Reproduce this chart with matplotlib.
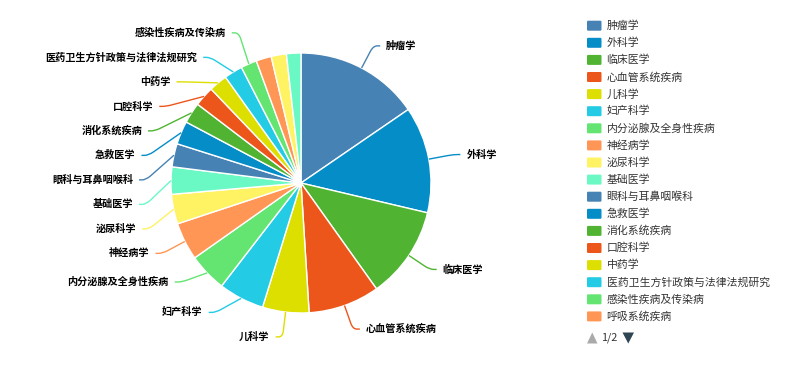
import numpy as np
import matplotlib.pyplot as plt
from matplotlib.path import Path
from matplotlib.patches import PathPatch, FancyBboxPatch, Polygon

plt.rcParams['font.family'] = ['Noto Sans CJK SC', 'DejaVu Sans']

# subject counts, largest first
subjects = ['肿瘤学', '外科学', '临床医学', '心血管系统疾病', '儿科学', '妇产科学',
            '内分泌腺及全身性疾病', '神经病学', '泌尿科学', '基础医学', '眼科与耳鼻咽喉科',
            '急救医学', '消化系统疾病', '口腔科学', '中药学', '医药卫生方针政策与法律法规研究',
            '感染性疾病及传染病', '呼吸系统疾病', '药学', '预防医学与卫生学']
counts = [155, 133, 115, 89, 58, 57, 48, 47, 37, 34, 29, 29, 26, 25, 23, 23, 20, 19, 19, 18]
palette = ['#4682B4', '#058DC7', '#50B432', '#ED561B', '#DDDF00',
           '#24CBE5', '#64E572', '#FF9655', '#FFF263', '#6AF9C4']

W, H = 785, 375
cx, cy, r = 301, 183, 130
len1, len2, gap = 25, 7, 6      # label line: radial part, horizontal part, text gap
row_h = 24.5                    # vertical room taken by one label
min_angle = 7                   # smaller slices get no label
pin_dx = 0.2                    # labels this close to vertical keep their spot

fig = plt.figure(figsize=(W / 100, H / 100), dpi=100)
ax = fig.add_axes([0, 0, 1, 1])
colors = [palette[i % len(palette)] for i in range(len(counts))]
wedges, _ = ax.pie(counts, colors=colors, startangle=-90, counterclock=True,
                   center=(cx, cy), radius=r,
                   wedgeprops=dict(edgecolor='white', linewidth=1))
ax.set_xlim(0, W)
ax.set_ylim(H, 0)
ax.set_aspect('auto')
ax.axis('off')


def shift_layout(items, lo, hi):
    """Push overlapping labels down, then pull the column back inside [lo, hi]."""
    if not items:
        return
    items.sort(key=lambda d: d['y'])
    tops = [d['y'] - row_h / 2 for d in items]
    last = lo
    for i in range(len(tops)):
        tops[i] = max(tops[i], last)
        last = tops[i] + row_h
    over = tops[-1] + row_h - hi
    if over > 0:
        room = max(tops[0] - lo, 0)
        tops = [t - min(over, room) for t in tops]
    for d, t in zip(items, tops):
        d['y'] = t + row_h / 2


labels = []
for w, name, color in zip(wedges, subjects, colors):
    if w.theta2 - w.theta1 < min_angle:
        continue
    mid = np.deg2rad((w.theta1 + w.theta2) / 2)
    ux, uy = np.cos(mid), np.sin(mid)
    labels.append(dict(name=name, color=color, side=1 if ux >= 0 else -1,
                       pinned=abs(ux) < pin_dx,
                       p1=(cx + r * ux, cy + r * uy),
                       x2=cx + (r + len1) * ux, y=cy + (r + len1) * uy))

for side in (-1, 1):
    free = [d for d in labels if d['side'] == side and not d['pinned']]
    fixed = [d['y'] for d in labels if d['side'] == side and d['pinned']]
    lo = max([y + row_h / 2 for y in fixed if y < cy], default=0)
    hi = min([y - row_h / 2 for y in fixed if y > cy], default=H)
    shift_layout(free, lo, hi)
    for d in free:
        dy = abs(d['y'] - cy)
        on_ring = np.sqrt(max((r + len1) ** 2 - dy ** 2, 0))
        d['x2'] = cx + side * max(on_ring, abs(d['x2'] - cx))

for d in labels:
    s = d['side']
    ax_, ay_ = d['p1']
    bx, by = d['x2'], d['y']
    ex = bx + s * len2
    # straight run into a rounded elbow
    seg = np.hypot(bx - ax_, by - ay_)
    k = min(1.0, 6 / seg) if seg > 0 else 0
    pre = (bx + (ax_ - bx) * k, by + (ay_ - by) * k)
    post = (bx + s * min(4, len2), by)
    path = Path([(ax_, ay_), pre, (bx, by), post, (ex, by)],
                [Path.MOVETO, Path.LINETO, Path.CURVE3, Path.CURVE3, Path.LINETO])
    ax.add_patch(PathPatch(path, fc='none', ec=d['color'], lw=1))
    ax.text(ex + s * gap, by, d['name'], fontsize=7.3, color='#000',
            fontweight='semibold', ha='left' if s > 0 else 'right', va='center')

# scrolling legend on the right
leg_x, leg_y0, leg_pitch = 587, 25.7, 17.1
icon_w, icon_h = 14.5, 10
pager_y = 338
per_page = int((pager_y - leg_y0) // leg_pitch)
pages = int(np.ceil(len(subjects) / per_page))
for i, (name, color) in enumerate(zip(subjects[:per_page], colors)):
    y = leg_y0 + i * leg_pitch
    ax.add_patch(FancyBboxPatch((leg_x, y - icon_h / 2), icon_w, icon_h,
                                boxstyle='round,pad=0,rounding_size=1.2',
                                fc=color, ec='none'))
    ax.text(leg_x + icon_w + 5, y, name, fontsize=7.8, color='#333',
            ha='left', va='center')

tri = 10.5
ax.add_patch(Polygon([(leg_x, pager_y + 5.5), (leg_x + tri, pager_y + 5.5),
                      (leg_x + tri / 2, pager_y - 5.5)], closed=True,
                     fc='#aaaaaa', ec='none'))
ax.text(leg_x + tri + 3.5, pager_y, f'1/{pages}', fontsize=7.8, color='#333',
        ha='left', va='center')
px = leg_x + tri + 25
ax.add_patch(Polygon([(px, pager_y - 5.5), (px + tri + 1, pager_y - 5.5),
                      (px + (tri + 1) / 2, pager_y + 5.5)], closed=True,
                     fc='#2f4554', ec='none'))

fig.savefig('out.png', dpi=100, facecolor='white')
